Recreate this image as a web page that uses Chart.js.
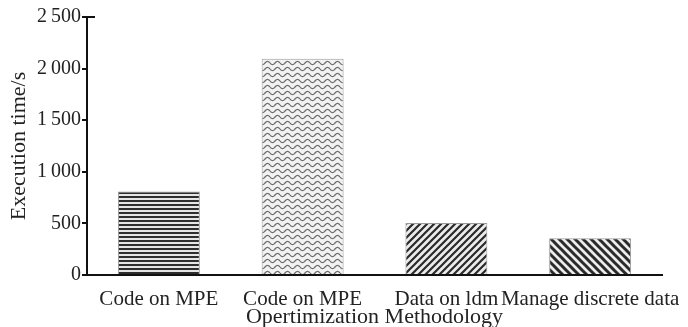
<!DOCTYPE html>
<html>
<head>
<meta charset="utf-8">
<script src="https://cdn.jsdelivr.net/npm/chart.js@4.4.0/dist/chart.umd.min.js"></script>
<style>
  html, body { margin: 0; padding: 0; background: #fff; }
  #wrap { width: 688px; height: 327px; }
</style>
</head>
<body>
<div id="wrap"><canvas id="myChart" width="688" height="327"></canvas></div>
<script>
// data
const categories = ['Code on MPE', 'Code on MPE', 'Data on ldm', 'Manage discrete data'];
const execTimes = [810, 2095, 505, 355];
const yTicks = [0, 500, 1000, 1500, 2000, 2500];
const patternKinds = ['hlines', 'wave', 'diagUp', 'diagDown'];

// little fill tiles for each bar
function makePattern(kind) {
  const c = document.createElement('canvas');
  const g = c.getContext('2d');
  if (kind === 'hlines') {
    c.width = 4; c.height = 4;
    g.fillStyle = '#e6e6e6'; g.fillRect(0, 0, 4, 4);
    g.fillStyle = '#2e2e2e'; g.fillRect(0, 0, 4, 2);
  } else if (kind === 'wave') {
    c.width = 10; c.height = 6;
    g.fillStyle = '#f2f2f2'; g.fillRect(0, 0, 10, 6);
    g.strokeStyle = '#6a6a6a'; g.lineWidth = 1.2;
    g.beginPath();
    for (let x = 0; x <= 10; x += 0.5) {
      const y = 3 + 1.6 * Math.sin(x / 10 * Math.PI * 2);
      if (x === 0) g.moveTo(x, y); else g.lineTo(x, y);
    }
    g.stroke();
  } else {
    const s = kind === 'diagUp' ? 7 : 8;
    c.width = s; c.height = s;
    g.fillStyle = '#ececec'; g.fillRect(0, 0, s, s);
    g.strokeStyle = '#2a2a2a'; g.lineWidth = kind === 'diagUp' ? 2.2 : 3;
    g.beginPath();
    if (kind === 'diagUp') {
      g.moveTo(-1, s + 1); g.lineTo(s + 1, -1);
      g.moveTo(-1, 1); g.lineTo(1, -1);
      g.moveTo(s - 1, s + 1); g.lineTo(s + 1, s - 1);
    } else {
      g.moveTo(-1, -1); g.lineTo(s + 1, s + 1);
      g.moveTo(s - 1, -1); g.lineTo(s + 1, 1);
      g.moveTo(-1, s - 1); g.lineTo(1, s + 1);
    }
    g.stroke();
  }
  return g.createPattern(c, 'repeat');
}

function fmtTick(v) {
  if (v >= 1000) {
    const r = String(v % 1000).padStart(3, '0');
    return Math.floor(v / 1000) + '\u2009' + r;
  }
  return String(v);
}

// small cap tick on the right at the top of the y axis
const topCap = {
  id: 'topCap',
  afterDraw(chart) {
    const ctx = chart.ctx;
    const y = chart.scales.y.getPixelForValue(2500);
    const x = chart.chartArea.left;
    ctx.save();
    ctx.strokeStyle = '#111';
    ctx.lineWidth = 2;
    ctx.beginPath();
    ctx.moveTo(x, y);
    ctx.lineTo(x + 8, y);
    ctx.stroke();
    ctx.restore();
  }
};

const ctx = document.getElementById('myChart').getContext('2d');
const fam = "'Liberation Serif', 'Times New Roman', serif";

new Chart(ctx, {
  type: 'bar',
  data: {
    labels: categories,
    datasets: [{
      data: execTimes,
      backgroundColor: patternKinds.map(makePattern),
      borderColor: '#9a9a9a',
      borderWidth: 1,
      categoryPercentage: 1,
      barPercentage: 0.57
    }]
  },
  options: {
    responsive: false,
    animation: false,
    layout: { padding: { top: 17, right: 26, left: 0, bottom: 0 } },
    plugins: { legend: { display: false }, tooltip: { enabled: false } },
    scales: {
      x: {
        grid: { display: false },
        border: { display: true, color: '#111', width: 2 },
        ticks: { color: '#222', font: { family: fam, size: 21 }, padding: 4, maxRotation: 0, autoSkip: false },
        title: { display: true, text: 'Opertimization Methodology', color: '#222', font: { family: fam, size: 22 }, padding: { top: -4, bottom: -3 } },
        afterFit(scale) { scale.height = 52; }
      },
      y: {
        min: 0,
        max: 2500,
        afterBuildTicks(scale) { scale.ticks = yTicks.map(v => ({ value: v })); },
        grid: { drawOnChartArea: false, drawTicks: true, tickLength: 5, color: '#111', lineWidth: 2 },
        border: { display: true, color: '#111', width: 2 },
        ticks: { color: '#222', font: { family: fam, size: 20 }, padding: 1, callback: v => fmtTick(v) },
        title: { display: true, text: 'Execution time/s', color: '#222', font: { family: fam, size: 22 }, padding: { top: 6, bottom: 2 } },
        afterFit(scale) { scale.width = 87; }
      }
    }
  },
  plugins: [topCap]
});
</script>
</body>
</html>
